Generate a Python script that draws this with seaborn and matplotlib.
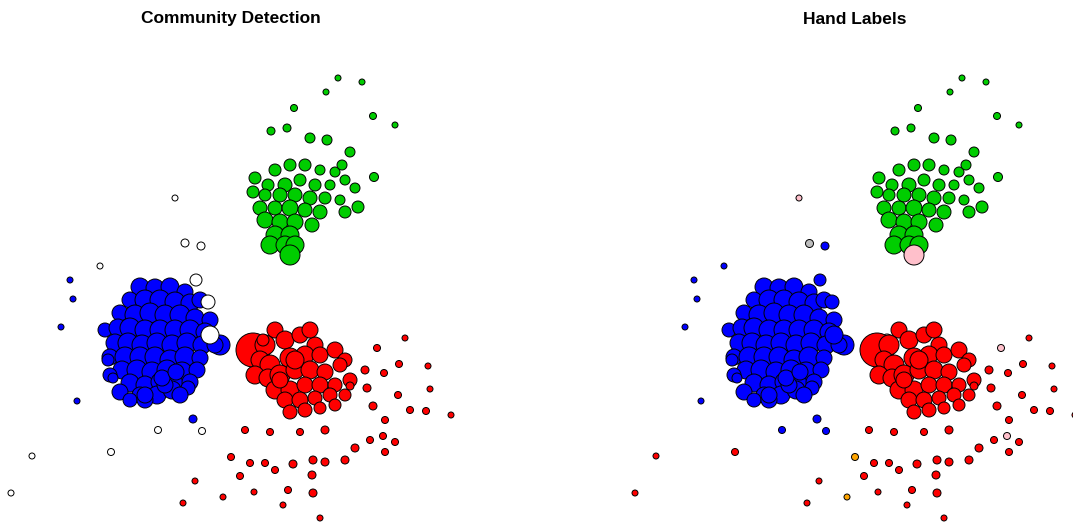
import matplotlib
matplotlib.use("Agg")
import matplotlib.pyplot as plt
import seaborn as sns
import pandas as pd

sns.set_style("white")

green_x = [338,362,326,294,373,395,271,287,310,327,374,
           290,305,275,320,335,350,342,255,268,285,300,315,330,345,355,253,265,280,295,310,325,340,358,
           260,275,290,305,320,345,265,280,295,312,275,290,270,285,295,290]
green_y = [78,82,92,108,116,125,131,128,138,140,177,
           165,165,170,170,172,152,165,178,185,185,180,185,185,180,188,192,195,195,195,198,198,200,207,
           208,208,208,210,212,212,220,222,222,225,235,235,245,245,245,255]
green_r = [3,3,3,3.5,3.5,3,4,4,5,5,4.5,
           6,6,6,5,5,5,5,6,6,7,6,6,5,5,5,6,6,7,7,7,6,5,6,
           7,7,8,7,7,6,8,8,8,7,9,9,9,9,9,10]

blue_x = [70,73,61,77,193,
          140,155,170,185,130,145,160,175,190,200,120,135,150,165,180,195,210,
          105,118,130,145,160,175,190,205,220,115,128,142,157,172,187,202,215,
          110,125,140,155,170,185,200,122,137,152,167,182,197,
          110,130,145,160,175,190,120,140,157,172,188,130,145,165,180,145,162,176,
          108,113]
blue_y = [280,299,327,401,419,
          287,288,287,292,300,300,300,302,303,300,313,315,313,315,315,318,320,
          330,328,328,330,330,330,330,332,345,343,343,345,343,345,343,345,345,
          357,357,357,357,360,357,358,370,370,372,370,372,370,
          375,383,385,382,385,382,392,395,395,390,388,400,400,385,395,395,378,372,
          360,378]
blue_r = [3,3,3,3,4,
          9,9,9,8,8,10,10,10,9,8,8,10,10,10,10,9,8,
          7,9,10,10,10,10,10,9,10,9,10,10,10,10,10,9,8,
          8,10,10,10,10,10,8,9,10,10,10,10,8,
          7,9,9,9,9,8,8,8,9,9,7,7,8,8,8,8,8,8,
          6,5]

white_x = [175,185,201,100,196,208,210,158,202,111,32,11]
white_y = [198,243,246,266,280,302,335,430,431,452,456,493]
white_r = [3,4,4,3,6,7,9,3.5,3.5,3.5,3,3]
white_hand = ["pink","#BEBEBE","blue","blue","blue","blue","blue","blue","blue","red","red","red"]

red_x = [253,275,265,285,300,315,260,270,290,305,320,335,345,255,268,280,295,310,325,340,
         275,290,305,320,335,350,285,300,315,330,345,290,305,320,335,280,295,310,
         405,377,399,428,365,384,350,367,430,398,373,410,426,451,385,245,270,300,325,370,395,355,
         231,250,265,293,313,325,345,385,240,275,312,195,223,254,288,313,183,283,320]
red_y = [350,330,345,340,335,345,360,365,358,355,355,350,360,375,378,375,370,370,372,365,
         390,390,385,385,385,380,400,400,398,395,395,412,410,408,405,380,360,330,
         338,348,364,366,370,373,386,388,389,395,406,410,411,415,420,430,432,432,430,440,442,448,
         457,463,463,464,460,462,460,452,476,470,475,481,497,492,490,493,503,505,518]
red_r = [17,8,10,9,8,8,9,10,10,9,8,8,7,9,9,10,9,9,8,7,
         9,9,8,8,7,7,8,8,7,7,6,7,7,6,6,8,9,8,
         3,3.5,3.5,3,4,3.5,4,4,3,3.5,4,3.5,3.5,3,3.5,3.5,3.5,3.5,4,3.5,3.5,4,
         3.5,3.5,3.5,4,4,4,4,3.5,3.5,3.5,4,3,3,3,3.5,4,3,3,3]

rows = []
for x, y, r in zip(green_x, green_y, green_r):
    rows.append((x, y, r, "#00CD00", "#00CD00"))
rows[-1] = (rows[-1][0], rows[-1][1], rows[-1][2], "#00CD00", "pink")
for x, y, r in zip(blue_x, blue_y, blue_r):
    rows.append((x, y, r, "blue", "blue"))
for x, y, r, h in zip(white_x, white_y, white_r, white_hand):
    rows.append((x, y, r, "white", h))
hand_special = {(231, 457): "orange", (223, 497): "orange", (377, 348): "pink"}
for x, y, r in zip(red_x, red_y, red_r):
    rows.append((x, y, r, "red", hand_special.get((x, y), "red")))
rows.append((263, 340, 6, "red", "pink"))
rows.append((383, 436, 3.5, "red", "pink"))

df = pd.DataFrame(rows, columns=["x", "y", "r", "comm", "hand"])
df["s"] = (1.44 * df["r"]) ** 2

fig = plt.figure(figsize=(10.73, 5.24), dpi=100)
axL = fig.add_axes([0, 0, 0.5, 1])
axR = fig.add_axes([0.5, 0, 0.5, 1])
for ax, col, xlim, title, tx in [(axL, "comm", (0, 536.5), "Community Detection", 231),
                                 (axR, "hand", (-87.5, 449), "Hand Labels", 855)]:
    for c, sub in df.groupby(col, sort=False):
        sns.scatterplot(data=sub, x="x", y="y", s=sub["s"].values, color=c,
                        edgecolor="black", linewidth=0.7, ax=ax, legend=False, clip_on=False)
    ax.set_xlim(*xlim)
    ax.set_ylim(524, 0)
    ax.axis("off")
    fig.text(tx / 1073, 1 - 19 / 524, title, ha="center", va="center", fontsize=12.5,
             fontweight="bold", color="black", family=["Liberation Sans", "DejaVu Sans"])
fig.savefig("out.png", dpi=100)
